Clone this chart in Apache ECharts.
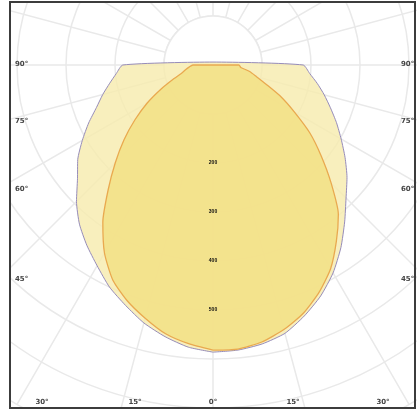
<!DOCTYPE html>
<html>
<head>
<meta charset="utf-8">
<script src="https://cdn.jsdelivr.net/npm/echarts@6/dist/echarts.min.js"></script>
<style>
  html, body { margin: 0; padding: 0; background: #fff; }
  #main { width: 417px; height: 413px; }
</style>
</head>
<body>
<div id="main"></div>
<script>
// gamma angle from nadir (deg), one reading every 5 deg, 0..90
var gammas = [0, 5, 10, 15, 20, 25, 30, 35, 40, 45, 50, 55, 60, 65, 70, 75, 80, 85, 90];

// wide beam (C90 - C270 plane), cd
var outerLeft  = [586, 578, 563, 545, 522, 500, 473, 449, 424, 394, 361, 337, 308, 280, 253, 233, 214, 198, 184];
var outerRight = [586, 584, 578, 567, 545, 520, 490, 455, 418, 384, 357, 329, 302, 278, 255, 235, 216, 198, 184];
var outerTop = 6;

// narrow beam (C0 - C180 plane), cd
var innerLeft  = [582, 571, 557, 535, 512, 484, 443, 392, 333, 282, 237, 194, 155, 118, 88, 67, 57, 49, 41];
var innerRight = [582, 582, 574, 559, 539, 512, 480, 439, 398, 341, 288, 241, 192, 153, 116, 92, 76, 57, 53];
var innerTop = 0;

var sideLabels = ['90°', '75°', '60°', '45°'];
var bottomLabels = ['30°', '15°', '0°', '15°', '30°'];
var ringLabels = [200, 300, 400, 500];

// left half goes 0..90, over the top at 180, right half 270..360
function outline(left, right, top) {
  var pts = [];
  for (var i = 0; i < gammas.length; i++) pts.push([left[i], gammas[i]]);
  pts.push([top, 180]);
  for (var j = gammas.length - 1; j >= 0; j--) pts.push([right[j], 360 - gammas[j]]);
  return pts;
}

var chart = echarts.init(document.getElementById('main'));

var gridColor = '#e9e9e9';
var sideY = [65, 122, 190, 280];
var bottomX = [42, 135, 213, 293, 383];
var graphics = [];
sideLabels.forEach(function (t, i) {
  graphics.push({ type: 'text', left: 15, top: sideY[i] - 4, z: 20,
    style: { text: t, fontSize: 7, fontWeight: 'bold', fill: '#444', fontFamily: 'DejaVu Sans' } });
  graphics.push({ type: 'text', left: 401, top: sideY[i] - 4, z: 20,
    style: { text: t, fontSize: 7, fontWeight: 'bold', fill: '#444', fontFamily: 'DejaVu Sans' } });
});
bottomLabels.forEach(function (t, i) {
  graphics.push({ type: 'text', x: bottomX[i], y: 402, z: 20,
    style: { text: t, fontSize: 7, fontWeight: 'bold', fill: '#444', fontFamily: 'DejaVu Sans',
             align: 'center', verticalAlign: 'middle' } });
});
// blank hub round the lamp centre, the radial lines start at the first ring
graphics.push({ type: 'circle', z: 1, shape: { cx: 213, cy: 65, r: 49 },
  style: { fill: '#fff', stroke: gridColor, lineWidth: 1.5 } });
// white margins outside the frame, then the frame itself
graphics.push({ type: 'rect', z: 15, shape: { x: 0, y: 0, width: 10, height: 413 }, style: { fill: '#fff' } });
graphics.push({ type: 'rect', z: 15, shape: { x: 0, y: 409, width: 417, height: 4 }, style: { fill: '#fff' } });
graphics.push({ type: 'rect', z: 15, shape: { x: 0, y: 0, width: 417, height: 2 }, style: { fill: '#fff' } });
graphics.push({ type: 'rect', z: 16, shape: { x: 10, y: 2, width: 405, height: 406 },
  style: { fill: 'none', stroke: '#3c3c3c', lineWidth: 2 } });

var axisOff = { axisLine: { show: false }, axisTick: { show: false } };

var option = {
  animation: false,
  backgroundColor: '#fff',
  // polar 0 carries the grid and curves, polar 1 only the ring values on top
  polar: [
    { center: [213, 65], radius: 392 },
    { center: [213, 65], radius: 392 }
  ],
  angleAxis: [
    Object.assign({
      polarIndex: 0, type: 'value', min: 0, max: 360, interval: 15,
      startAngle: 270, clockwise: true, axisLabel: { show: false },
      splitLine: { lineStyle: { color: gridColor, width: 1.5 } }
    }, axisOff),
    Object.assign({
      polarIndex: 1, type: 'value', min: 0, max: 360, interval: 15,
      startAngle: 270, clockwise: true, axisLabel: { show: false }, splitLine: { show: false }
    }, axisOff)
  ],
  radiusAxis: [
    Object.assign({
      polarIndex: 0, type: 'value', min: 0, max: 800, interval: 100,
      axisLabel: { show: false },
      splitLine: { lineStyle: { color: gridColor, width: 1.5 } }
    }, axisOff),
    Object.assign({
      polarIndex: 1, type: 'value', min: 0, max: 800, interval: 100, z: 10,
      splitLine: { show: false },
      axisLabel: {
        margin: 0, align: 'center', verticalAlign: 'middle',
        fontSize: 5, fontWeight: 'bold', color: '#111',
        formatter: function (v) { return ringLabels.indexOf(v) >= 0 ? String(v) : ''; }
      }
    }, axisOff)
  ],
  series: [
    {
      type: 'line', coordinateSystem: 'polar', polarIndex: 0,
      data: outline(outerLeft, outerRight, outerTop),
      symbol: 'none', smooth: 0.2, z: 2,
      lineStyle: { color: '#968cba', width: 1 },
      areaStyle: { color: '#f6ecaf', opacity: 0.82 }
    },
    {
      type: 'line', coordinateSystem: 'polar', polarIndex: 0,
      data: outline(innerLeft, innerRight, innerTop),
      symbol: 'none', smooth: 0.2, z: 3,
      lineStyle: { color: '#e9a94f', width: 1.3 },
      areaStyle: { color: '#f2e085', opacity: 0.85 }
    }
  ],
  graphic: graphics
};

chart.setOption(option);
</script>
</body>
</html>
